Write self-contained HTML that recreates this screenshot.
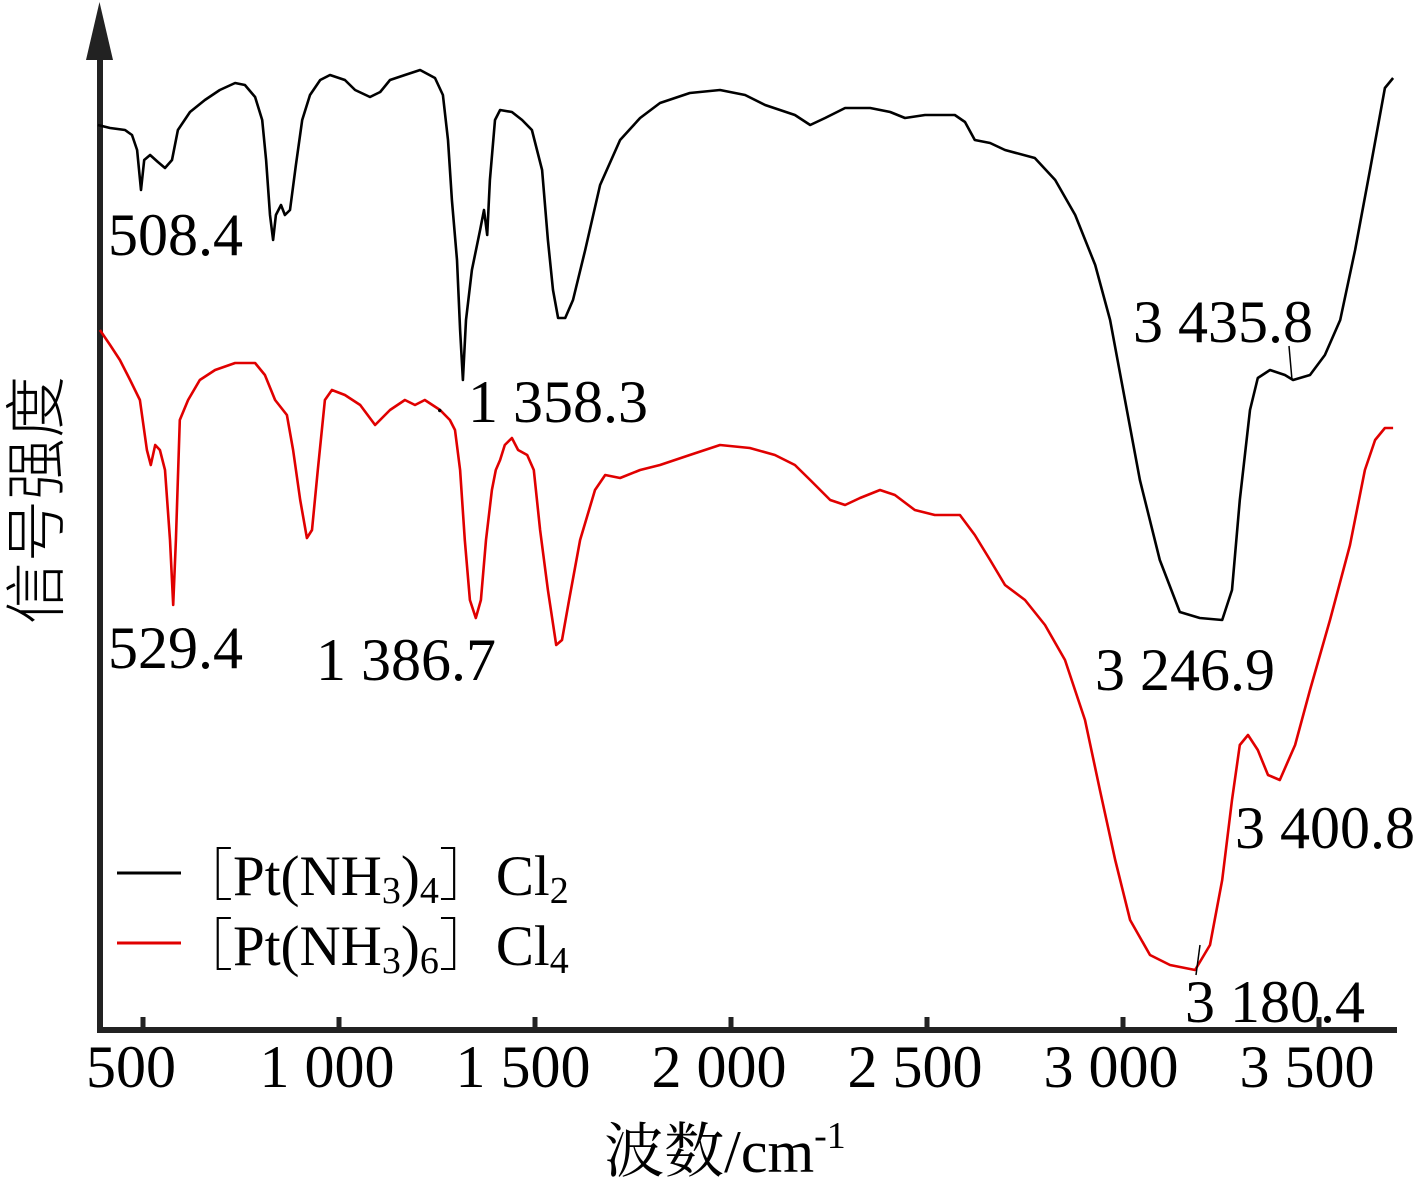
<!DOCTYPE html>
<html><head><meta charset="utf-8"><style>
html,body{margin:0;padding:0;background:#fff;}
svg{display:block;font-family:"Liberation Serif","Noto Serif CJK SC","Noto Sans CJK SC",serif;}
</style></head><body>
<svg id="chart" width="1417" height="1181" viewBox="0 0 1417 1181">
<g id="axes"></g>
<g id="series"></g>
<g font-size="60" fill="#000">
<text x="108" y="255">508.4</text>
<text x="468" y="422">1 358.3</text>
<text x="436" y="412" font-size="30">.</text>
<text x="1133" y="342">3 435.8</text>
<line x1="1289" y1="346" x2="1292" y2="380" stroke="#000" stroke-width="1.5"/>
<text x="108" y="668">529.4</text>
<text x="316" y="680">1 386.7</text>
<text x="1095" y="690">3 246.9</text>
<text x="1235" y="848">3 400.8</text>
<text x="1185" y="1022">3 180.4</text>
<line x1="1196" y1="975" x2="1200" y2="945" stroke="#000" stroke-width="1.5"/>
</g>
<g font-size="57">
<line x1="117" y1="873" x2="181" y2="873" stroke="#000" stroke-width="3"/>
<text x="176" y="895">［Pt(NH<tspan font-size="38" dy="8">3</tspan><tspan dy="-8">)</tspan><tspan font-size="38" dy="8">4</tspan><tspan dy="-8">］Cl</tspan><tspan font-size="38" dy="8">2</tspan></text>
<line x1="117" y1="943" x2="181" y2="943" stroke="#e00000" stroke-width="3"/>
<text x="176" y="965">［Pt(NH<tspan font-size="38" dy="8">3</tspan><tspan dy="-8">)</tspan><tspan font-size="38" dy="8">6</tspan><tspan dy="-8">］Cl</tspan><tspan font-size="38" dy="8">4</tspan></text>
</g>
<text x="725" y="1172" text-anchor="middle" font-size="60">波数/cm<tspan font-size="38" dy="-24">-1</tspan></text>
<text transform="translate(58,500) rotate(-90)" text-anchor="middle" font-size="62" font-family="Noto Sans CJK SC, sans-serif" font-weight="300">信号强度</text>
</svg>
<script>
const tickValues = [500, 1000, 1500, 2000, 2500, 3000, 3500];
const tickLabels = ["500", "1 000", "1 500", "2 000", "2 500", "3 000", "3 500"];
const blackWn = [385,416,454,472,485,495,503,518,538,556,574,589,620,658,696,735,760,786,804,814,824,832,839,852,862,875,890,906,926,952,977,1015,1041,1079,1105,1130,1168,1207,1245,1265,1278,1288,1301,1309,1316,1324,1339,1360,1370,1378,1385,1398,1411,1441,1467,1492,1518,1533,1546,1559,1577,1597,1628,1666,1717,1768,1819,1895,1972,2036,2087,2125,2163,2202,2240,2291,2355,2406,2444,2495,2571,2597,2622,2661,2699,2775,2827,2878,2929,2967,3005,3043,3094,3145,3196,3253,3278,3298,3324,3344,3375,3413,3434,3477,3515,3554,3592,3630,3668,3689];
const blackSig = [90.5,90.2,90,89.5,88,84,87,87.5,86.8,86.2,87,90,91.8,93,94,94.7,94.5,93.3,91,87,81.5,79,81.5,82.5,81.5,82,86.5,91,93.5,95,95.5,95,94,93.3,93.8,95,95.5,96,95.2,93.5,89,83,77,70,65,71,76,80,82,79.5,85,91,92,91.8,91,90,86,79,74,71.2,71.2,73,78,84.5,89,91.2,92.7,93.7,94,93.5,92.5,92,91.5,90.5,91.2,92.2,92.2,91.8,91.2,91.5,91.5,90.8,89,88.7,88,87.2,85,81.5,76.5,71,63,55,47,41.8,41.2,41,44,53,62,65.2,66,65.5,65,65.5,67.5,71,78,86,94.2,95.2];
const redWn = [390,416,441,467,492,510,520,531,543,556,569,577,584,594,615,645,684,735,786,811,837,867,883,901,918,931,946,964,982,1015,1054,1092,1130,1168,1194,1219,1258,1283,1296,1309,1321,1334,1349,1362,1375,1390,1400,1411,1423,1441,1457,1480,1497,1513,1533,1554,1569,1587,1615,1653,1679,1717,1768,1819,1895,1972,2048,2112,2163,2202,2253,2291,2329,2380,2418,2469,2520,2584,2622,2661,2699,2750,2801,2852,2903,2941,2980,3018,3069,3120,3184,3222,3253,3278,3298,3319,3344,3370,3400,3439,3477,3528,3579,3617,3643,3668,3689];
const redSig = [70,68.5,67,65,63,58,56.5,58.5,58,56,49,42.5,49,61,63,65,66,66.7,66.7,65.5,63,61.5,58,53,49.2,50,56,63,64,63.5,62.5,60.5,62,63,62.5,63,62,61,60,56,49,43,41.2,43,49,54,56,57,58.5,59.2,58,57.5,56,50,44,38.5,39,43,49,54,55.5,55.2,56,56.5,57.5,58.5,58.2,57.5,56.5,55,53,52.5,53.2,54,53.5,52,51.5,51.5,49.5,47,44.5,43,40.5,37,31,24,17,11,7.5,6.5,6,8.5,15,23,28.5,29.5,28,25.5,25,28.5,34,41,48.5,56,59,60.2,60.2];

const NS = "http://www.w3.org/2000/svg";
const xs = v => 143 + (v - 500) * 0.392;
const ys = s => 1030 - s * 10;
const axes = document.getElementById("axes");
const series = document.getElementById("series");
function mk(tag, attrs, parent){const e=document.createElementNS(NS,tag);for(const k in attrs)e.setAttribute(k,attrs[k]);parent.appendChild(e);return e;}

const xAxis = mk("line",{x1:97,y1:1030,x2:1397,y2:1030,stroke:"#222","stroke-width":6},axes);


const yAxis = mk("line",{x1:100,y1:50,x2:100,y2:1033,stroke:"#222","stroke-width":6},axes);


const arrow = mk("polygon",{points:"99.5,2 86,60 113,60",fill:"#222"},axes);



tickValues.forEach((v,i)=>{
  const t = mk("line",{x1:xs(v),y1:1017,x2:xs(v),y2:1030,stroke:"#222","stroke-width":5},axes);
  
  
  const l = mk("text",{x:xs(v)-12,y:1087,"text-anchor":"middle","font-size":60},axes);
  l.textContent = tickLabels[i];
  
  
});

function drawLine(wn, sig, color, name){
  const pts = wn.map((v,i)=>xs(v).toFixed(1)+","+ys(sig[i]).toFixed(1)).join(" ");
  const p = mk("polyline",{points:pts,fill:"none",stroke:color,"stroke-width":2.6,"stroke-linejoin":"round"},series);
  
  
}
drawLine(blackWn, blackSig, "#000", "series-pt-nh3-4-cl2");
drawLine(redWn, redSig, "#e00000", "series-pt-nh3-6-cl4");
</script>
</body></html>
